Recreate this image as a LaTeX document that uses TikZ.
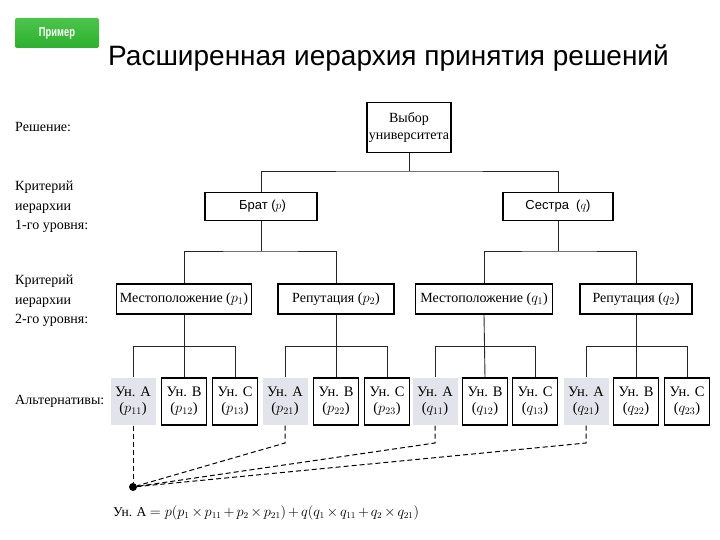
\documentclass[tikz,border=0pt]{standalone}
\usepackage{fontspec}
\setmainfont{Liberation Serif}
\newfontfamily\arialf{Liberation Sans}
\usetikzlibrary{calc}
\definecolor{btngreen}{HTML}{2DB02D}
\definecolor{btngreenlight}{HTML}{4CC44C}
\definecolor{leafgray}{HTML}{E3E3EC}
\tikzset{
  box/.style={draw=black, line width=1.1pt, fill=white, inner sep=1pt, align=center, font=\fontsize{14}{17}\selectfont},
  leaf/.style={box, minimum width=45pt, minimum height=47pt, font=\fontsize{14.5}{16}\selectfont},
  leafA/.style={leaf, draw=none, fill=leafgray},
  crit/.style={box, minimum height=30pt},
  conn/.style={draw=black!85, line width=0.9pt},
  dline/.style={draw=black, line width=1pt, dashed, dash pattern=on 5pt off 3pt},
  lbl/.style={anchor=west, align=left, inner sep=0pt, font=\fontsize{14}{19.5}\selectfont},
}
\begin{document}
\begin{tikzpicture}[x=1pt,y=-1pt]
\useasboundingbox (0,0) rectangle (720,540);
% header
\node[top color=btngreenlight, bottom color=btngreen, rounded corners=2pt, minimum width=84pt, minimum height=30pt, inner sep=0pt, text=white, font=\arialf\bfseries\fontsize{13}{15}\selectfont] (btn) at (57,33) {\scalebox{0.72}[1]{Пример}};
\node[anchor=base west, inner sep=0pt, font=\arialf\fontsize{28}{33}\selectfont] (title) at (108,66) {Расширенная иерархия принятия решений};
% left labels
\node[lbl] (l0) at (15,127) {Решение:};
\node[lbl] (l1) at (15,207) {Критерий\\иерархии\\1-го уровня:};
\node[lbl] (l2) at (15,301) {Критерий\\иерархии\\2-го уровня:};
\node[lbl] (l3) at (15,401) {Альтернативы:};
% top
\node[box, minimum width=84pt, minimum height=50pt] (top) at (409,127.5) {Выбор\\университета};
% level 1
\node[box, minimum width=112pt, minimum height=28pt, font=\arialf\fontsize{13}{15}\selectfont] (brat) at (261,206.5) {\hspace{3pt}Брат ($p$)};
\node[box, minimum width=110pt, minimum height=28pt, font=\arialf\fontsize{13}{15}\selectfont] (sis) at (558,206.5) {Сестра\ \ ($q$)};
% level 2
\node[crit, minimum width=135pt] (m1) at (184,299) {Местоположение ($p_1$)};
\node[crit, minimum width=116pt] (r1) at (336,299) {Репутация ($p_2$)};
\node[crit, minimum width=137pt] (m2) at (484,299) {Местоположение ($q_1$)};
\node[crit, minimum width=112pt] (r2) at (636,299) {Репутация ($q_2$)};
% leaves
\node[leafA] (a11) at (133,401.5) {Ун. А\\($p_{11}$)};
\node[leaf]  (b12) at (184,401.5) {Ун. В\\($p_{12}$)};
\node[leaf]  (c13) at (235,401.5) {Ун. С\\($p_{13}$)};
\node[leafA] (a21) at (285,401.5) {Ун. А\\($p_{21}$)};
\node[leaf]  (b22) at (336,401.5) {Ун. В\\($p_{22}$)};
\node[leaf]  (c23) at (387,401.5) {Ун. С\\($p_{23}$)};
\node[leafA] (q11) at (435,401.5) {Ун. А\\($q_{11}$)};
\node[leaf]  (q12) at (485,401.5) {Ун. В\\($q_{12}$)};
\node[leaf]  (q13) at (535,401.5) {Ун. С\\($q_{13}$)};
\node[leafA] (q21) at (586,401.5) {Ун. А\\($q_{21}$)};
\node[leaf]  (q22) at (636,401.5) {Ун. В\\($q_{22}$)};
\node[leaf]  (q23) at (687,401.5) {Ун. С\\($q_{23}$)};
% junctions
\coordinate (j0) at (409,171);
\coordinate (jb) at (261,251);
\coordinate (js) at (558,251);
% connectors
\draw[conn] (top.south) -- (j0);
\draw[conn] (brat.north) |- (j0) -| (sis.north);
\draw[conn] (brat.south) -- (jb);
\draw[conn] (m1.north) |- (jb) -| (r1.north);
\draw[conn] (sis.south) -- (js);
\draw[conn] (m2.north) |- (js) -| (r2.north);
\draw[conn] (a11.north) |- ($(b12.north)+(0,-31)$) -| (c13.north);
\draw[conn] (m1.south) -- (b12.north);
\draw[conn] (a21.north) |- ($(b22.north)+(0,-31)$) -| (c23.north);
\draw[conn] (r1.south) -- (b22.north);
\draw[conn] (q11.north) |- ($(q12.north)+(0,-31)$) -| (q13.north);
\draw[conn] (m2.south) -- (q12.north);
\draw[conn] (q21.north) |- ($(q22.north)+(0,-31)$) -| (q23.north);
\draw[conn] (r2.south) -- (q22.north);
% dashed aggregation
\node[circle, fill=black, inner sep=0pt, minimum size=8pt] (dot) at (133,487) {};
\coordinate (k21) at (285,443);
\coordinate (k11) at (435,443);
\coordinate (k22) at (586,443);
\draw[dline] (a11.south) -- (dot);
\draw[dline] (a21.south) -- (k21) -- (dot);
\draw[dline] (q11.south) -- (k11) -- (dot);
\draw[dline] (q21.south) -- (k22) -- (dot);
% formula
\node[anchor=base west, inner sep=0pt, font=\fontsize{13.5}{16}\selectfont] (formula) at (113,516) {\medmuskip=2.5mu Ун. А $= p(p_1\times p_{11}+p_2\times p_{21})+q(q_1\times q_{11}+q_2\times q_{21})$};
\end{tikzpicture}
\end{document}
